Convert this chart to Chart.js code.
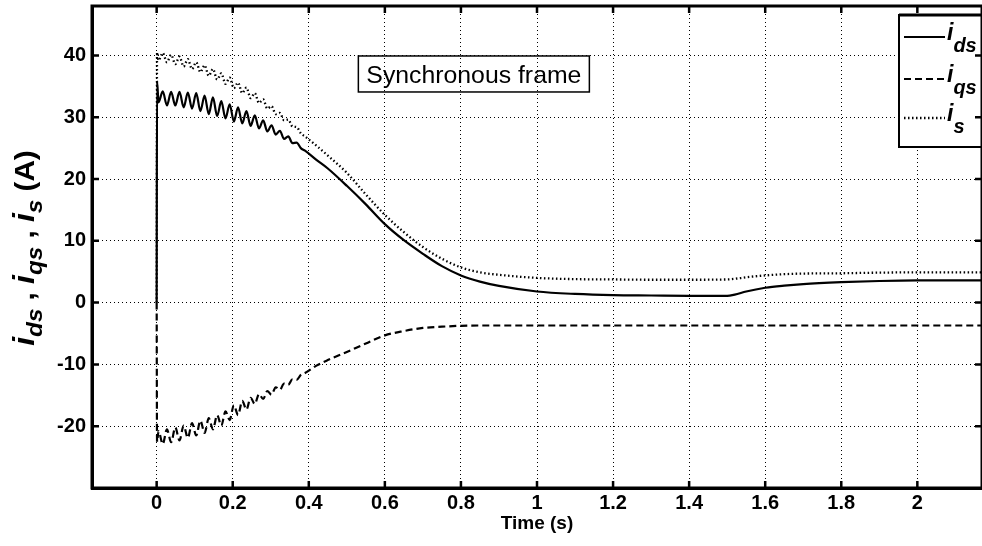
<!DOCTYPE html>
<html><head><meta charset="utf-8">
<script src="https://cdn.jsdelivr.net/npm/chart.js@4.4.0/dist/chart.umd.min.js"></script>
<style>html,body{margin:0;padding:0;background:#fff;}#wrap{width:982px;height:546px;position:relative;}</style>
</head><body><div id="wrap"><canvas id="c" width="982" height="546"></canvas></div>
<script>
// ---- data ----
const timeS = [0, 0.001, 0.005, 0.016, 0.027, 0.038, 0.049, 0.060, 0.071, 0.082, 0.093, 0.104, 0.115, 0.126, 0.137, 0.148, 0.159, 0.170, 0.181, 0.192, 0.203, 0.214, 0.225, 0.236, 0.247, 0.258, 0.269, 0.280, 0.291, 0.302, 0.313, 0.324, 0.335, 0.346, 0.357, 0.368, 0.379, 0.390, 0.42, 0.45, 0.5, 0.55, 0.6, 0.65, 0.7, 0.75, 0.8, 0.85, 0.9, 1.0, 1.1, 1.2, 1.3, 1.4, 1.5, 1.52, 1.55, 1.6, 1.65, 1.7, 1.8, 1.9, 2.0, 2.1, 2.17];
const idsA = [0, 35.8,
  32.4, 34.2, 31.9, 34.1, 31.9, 34.1, 31.6, 34.0, 31.4, 33.9, 31.0, 33.5, 30.5, 33.2, 30.2, 32.6, 29.8, 32.1,
  29.3, 31.6, 29.0, 31.0, 28.6, 30.3, 28.2, 29.5, 27.7, 28.7, 27.2, 27.8, 26.5, 26.9, 25.8, 25.9, 25.0, 24.6,
  23.1, 21.7, 18.9, 15.9, 12.7, 10.1, 7.9, 5.9, 4.4, 3.4, 2.7, 1.8, 1.4, 1.2, 1.15, 1.1, 1.1, 1.3, 1.8, 2.4, 2.75, 3.0, 3.3, 3.5, 3.6, 3.6, 3.6];
const iqsA = [0, -22.5,
  -20.8, -22.9, -20.5, -22.6, -20.2, -22.3, -19.9, -21.9, -19.5, -21.5, -19.1, -21.1, -18.7, -20.5, -18.2, -19.9, -17.6, -19.0,
  -16.6, -18.2, -15.9, -17.3, -15.4, -16.4, -14.8, -15.6, -14.3, -14.9, -13.7, -14.1, -13.1, -13.3, -12.4, -12.5, -11.7, -11.4,
  -10.2, -9.3, -8.0, -6.6, -5.3, -4.6, -4.1, -3.9, -3.75, -3.7, -3.7, -3.7, -3.7, -3.7, -3.7, -3.7, -3.7, -3.7, -3.7, -3.7, -3.7, -3.7, -3.7, -3.7, -3.7, -3.7, -3.7];
const isA = [0, 40.5,
  39.2, 40.4, 38.9, 40.1, 38.6, 39.8, 38.2, 39.4, 37.8, 38.9, 37.3, 38.4, 36.7, 37.8, 36.1, 37.1, 35.4, 36.4,
  34.7, 35.6, 33.9, 34.8, 33.1, 33.9, 32.3, 32.9, 31.4, 31.8, 30.5, 30.7, 29.5, 29.6, 28.5, 28.4, 27.4, 26.9,
  25.4, 23.8, 21.0, 17.5, 14.2, 11.4, 9.0, 7.1, 5.7, 4.9, 4.5, 4.0, 3.8, 3.75, 3.7, 3.7, 3.75, 3.85, 4.1, 4.4, 4.6, 4.7, 4.75, 4.85, 4.9, 4.9, 4.9];
const xTickValues = [0, 0.2, 0.4, 0.6, 0.8, 1, 1.2, 1.4, 1.6, 1.8, 2];
const yTickValues = [-20, -10, 0, 10, 20, 30, 40];
const seriesSubscripts = ['ds', 'qs', 's'];
const xTitleText = 'Time (s)';
const yTitleParts = [['i','m'],['ds','s'],[' , ','p'],['i','m'],['qs','s'],[' , ','p'],['i','m'],['s','s'],[' (A)','p']];
const annotation = {text: 'Synchronous frame', t: 0.834, v: 37.0};

// ---- chart ----
const FAM = "Arial, 'Liberation Sans', Helvetica, sans-serif";
Chart.defaults.font.family = FAM;
Chart.defaults.color = '#000';
const styles = [
  {dash: [], w: 2.2},
  {dash: [7, 4], w: 2.2},
  {dash: [1.5, 2.5], w: 2.3}
];
const seriesVals = [idsA, iqsA, isA];
const datasets = seriesVals.map((arr, k) => ({
  label: 'i_' + seriesSubscripts[k],
  data: timeS.map((t, i) => ({x: t, y: arr[i]})),
  borderColor: '#000', borderWidth: styles[k].w, borderDash: styles[k].dash,
  pointRadius: 0, cubicInterpolationMode: 'monotone', fill: false
}));

const framePlugin = {
  id: 'frame',
  afterDraw(chart) {
    const ctx = chart.ctx, a = chart.chartArea;
    const xs = chart.scales.x, ys = chart.scales.y;
    ctx.save();
    // annotation
    ctx.font = '24.8px ' + FAM;
    const tw = ctx.measureText(annotation.text).width;
    const cx = xs.getPixelForValue(annotation.t), cy = ys.getPixelForValue(annotation.v);
    ctx.lineWidth = 1.5; ctx.strokeStyle = '#000'; ctx.setLineDash([]);
    ctx.strokeRect(cx - tw / 2 - 8, cy - 18, tw + 16, 36);
    ctx.fillStyle = '#000'; ctx.textAlign = 'center'; ctx.textBaseline = 'alphabetic';
    ctx.fillText(annotation.text, cx, cy + 9.5);
    // legend
    const lx = a.right - 83, ly = a.top + 9;
    ctx.fillStyle = '#fff';
    ctx.fillRect(lx, ly, 200, 132);
    ctx.lineWidth = 2; ctx.strokeStyle = '#000';
    ctx.strokeRect(lx, ly, 200, 132);
    ctx.lineWidth = 3;
    ctx.beginPath(); ctx.moveTo(lx, ly); ctx.lineTo(lx + 200, ly); ctx.stroke();
    const rows = [22, 64, 103];
    rows.forEach((dy, k) => {
      const y = ly + dy;
      ctx.beginPath(); ctx.setLineDash(styles[k].dash); ctx.lineWidth = styles[k].w;
      ctx.moveTo(lx + 5, y); ctx.lineTo(lx + 46, y); ctx.stroke();
      ctx.setLineDash([]);
      ctx.fillStyle = '#000'; ctx.textAlign = 'left';
      ctx.font = 'italic bold 23px ' + FAM;
      ctx.fillText('i', lx + 48, y + 3);
      const iw = ctx.measureText('i').width;
      ctx.font = 'italic bold 20px ' + FAM;
      ctx.fillText(seriesSubscripts[k], lx + 48 + iw, y + 15);
    });
    // box
    ctx.setLineDash([]); ctx.lineWidth = 3; ctx.strokeStyle = '#000';
    ctx.strokeRect(a.left, a.top, a.right - a.left, a.bottom - a.top);
    // inward ticks
    ctx.lineWidth = 2.5;
    xTickValues.forEach(v => {
      const p = xs.getPixelForValue(v);
      ctx.beginPath(); ctx.moveTo(p, a.bottom); ctx.lineTo(p, a.bottom - 7);
      ctx.moveTo(p, a.top); ctx.lineTo(p, a.top + 7); ctx.stroke();
    });
    yTickValues.forEach(v => {
      const p = ys.getPixelForValue(v);
      ctx.beginPath(); ctx.moveTo(a.left, p); ctx.lineTo(a.left + 7, p);
      ctx.moveTo(a.right, p); ctx.lineTo(a.right - 7, p); ctx.stroke();
    });
    // y title (rotated, with subscripts)
    const fonts = {m: 'italic bold 29px ' + FAM, s: 'italic bold 22px ' + FAM, p: 'bold 27px ' + FAM};
    let total = 0;
    yTitleParts.forEach(([txt, kind]) => { ctx.font = fonts[kind]; total += ctx.measureText(txt).width; });
    const stretch = 1.1;
    ctx.translate(34, a.top + 242);
    ctx.rotate(-Math.PI / 2);
    ctx.scale(stretch, 1);
    ctx.textAlign = 'left'; ctx.fillStyle = '#000';
    let x0 = -total / 2;
    yTitleParts.forEach(([txt, kind]) => {
      ctx.font = fonts[kind];
      ctx.fillText(txt, x0, kind === 's' ? 8 : 0);
      x0 += ctx.measureText(txt).width;
    });
    ctx.restore();
  }
};

new Chart(document.getElementById('c'), {
  type: 'line',
  data: {datasets},
  plugins: [framePlugin],
  options: {
    responsive: false, animation: false, devicePixelRatio: 1,
    layout: {padding: {top: 6, right: 0, left: 0, bottom: 0}},
    plugins: {legend: {display: false}, tooltip: {enabled: false}},
    scales: {
      x: {
        type: 'linear', min: -0.17, max: 2.17,
        afterBuildTicks: s => { s.ticks = xTickValues.map(v => ({value: v})); },
        afterFit: s => { s.height = 58; s.paddingLeft = 0; s.paddingRight = 0; },
        ticks: {font: {size: 20, weight: 'bold'}, color: '#000', padding: 3, maxRotation: 0, autoSkip: false,
          callback: v => String(Math.round(v * 10) / 10)},
        grid: {color: '#000', lineWidth: 1, drawTicks: false},
        border: {display: true, color: '#000', width: 3, dash: [1, 3]},
        title: {display: true, text: xTitleText, font: {size: 19, weight: 'bold'}, color: '#000', padding: {top: 0, bottom: 10.6}}
      },
      y: {
        type: 'linear', min: -30, max: 48,
        afterBuildTicks: s => { s.ticks = yTickValues.map(v => ({value: v})); },
        afterFit: s => { s.width = 92; s.paddingTop = 0; s.paddingBottom = 0; },
        ticks: {font: {size: 20, weight: 'bold'}, color: '#000', padding: 6, autoSkip: false},
        grid: {color: '#000', lineWidth: 1, drawTicks: false},
        border: {display: true, color: '#000', width: 3, dash: [1, 3]}
      }
    }
  }
});
</script></body></html>
